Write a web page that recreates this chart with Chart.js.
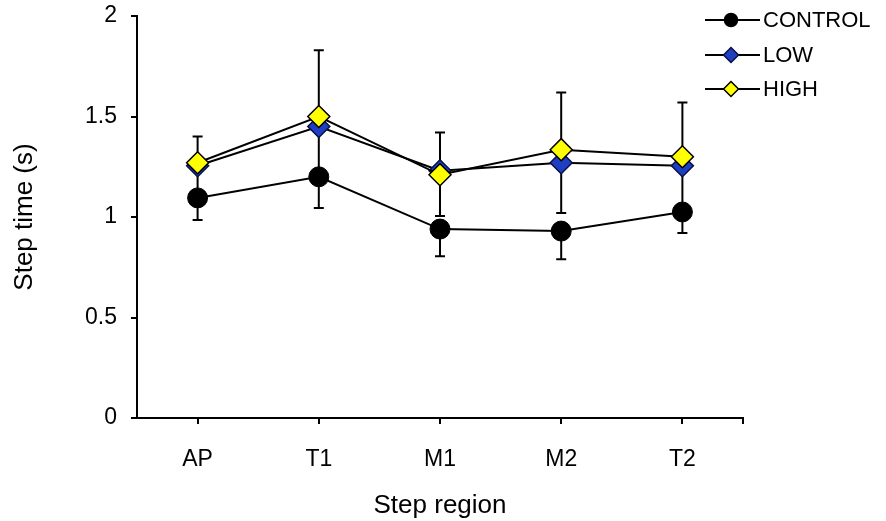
<!DOCTYPE html>
<html>
<head>
<meta charset="utf-8">
<script src="https://cdn.jsdelivr.net/npm/chart.js@4.4.1/dist/chart.umd.min.js"></script>
<style>
	html, body { margin: 0; padding: 0; background: #fff; }
	#wrap { width: 886px; height: 521px; position: relative; }
</style>
</head>
<body>
<div id="wrap"><canvas id="stepChart" width="886" height="521"></canvas></div>
<script>
const categories = ['AP', 'T1', 'M1', 'M2', 'T2'];
const controlValues = [1.095, 1.20, 0.94, 0.93, 1.025];
const controlErrMinus = [0.11, 0.155, 0.135, 0.14, 0.105];
const lowValues = [1.255, 1.45, 1.23, 1.27, 1.255];
const lowErrMinus = [0.13, 0.25, 0.225, 0.25, 0.2];
const highValues = [1.27, 1.50, 1.21, 1.335, 1.30];
const highErrPlus = [0.13, 0.33, 0.21, 0.285, 0.27];
const yTickLabels = ['0', '0.5', '1', '1.5', '2'];

const FONT = 'Arial, "Liberation Sans", sans-serif';

// one-sided error bars with caps, drawn under the markers
const errorBars = {
	id: 'errorBars',
	beforeDatasetsDraw(chart) {
		const ctx = chart.ctx;
		const xs = chart.scales.x, ys = chart.scales.y;
		ctx.save();
		ctx.strokeStyle = '#000';
		ctx.lineWidth = 2;
		chart.data.datasets.forEach(function(ds) {
			ds.data.forEach(function(v, i) {
				const up = ds.errPlus ? ds.errPlus[i] : 0;
				const down = ds.errMinus ? ds.errMinus[i] : 0;
				if(!up && !down) return;
				const x = xs.getPixelForValue(i);
				const yTop = ys.getPixelForValue(v + up);
				const yBot = ys.getPixelForValue(v - down);
				ctx.beginPath();
				ctx.moveTo(x, yTop); ctx.lineTo(x, yBot);
				if(up) { ctx.moveTo(x - 5, yTop); ctx.lineTo(x + 5, yTop); }
				if(down) { ctx.moveTo(x - 5, yBot); ctx.lineTo(x + 5, yBot); }
				ctx.stroke();
			});
		});
		ctx.restore();
	}
};

// legend in the top right corner: short line with the marker in the middle
const lineLegend = {
	id: 'lineLegend',
	afterDraw(chart) {
		const ctx = chart.ctx;
		const area = chart.chartArea;
		ctx.save();
		// tick at the far end of the x axis
		ctx.strokeStyle = '#000';
		ctx.lineWidth = 2;
		ctx.beginPath();
		ctx.moveTo(area.right, area.bottom);
		ctx.lineTo(area.right, area.bottom + 6);
		ctx.stroke();

		const x0 = 705, x1 = 760, mx = 731;
		const rows = [20, 55, 89];
		chart.data.datasets.forEach(function(ds, i) {
			const y = rows[i];
			ctx.strokeStyle = '#000';
			ctx.lineWidth = 2;
			ctx.beginPath();
			ctx.moveTo(x0, y); ctx.lineTo(x1, y);
			ctx.stroke();
			ctx.fillStyle = ds.pointBackgroundColor;
			ctx.strokeStyle = ds.pointBorderColor;
			ctx.lineWidth = 1.5;
			ctx.beginPath();
			if(ds.pointStyle === 'circle') {
				ctx.arc(mx, y, 6.5, 0, Math.PI * 2);
			} else {
				ctx.moveTo(mx, y - 7.5); ctx.lineTo(mx + 7.5, y);
				ctx.lineTo(mx, y + 7.5); ctx.lineTo(mx - 7.5, y);
				ctx.closePath();
			}
			ctx.fill();
			ctx.stroke();
			ctx.fillStyle = '#000';
			ctx.font = '22px ' + FONT;
			ctx.textBaseline = 'middle';
			ctx.textAlign = 'left';
			ctx.fillText(ds.label, 763, y + 1);
		});
		ctx.restore();
	}
};

const ctx = document.getElementById('stepChart').getContext('2d');
new Chart(ctx, {
	type: 'line',
	data: {
		labels: categories,
		datasets: [{
			label: 'CONTROL',
			data: controlValues,
			errMinus: controlErrMinus,
			borderColor: '#000',
			borderWidth: 2,
			pointStyle: 'circle',
			pointRadius: 10,
			pointBackgroundColor: '#000',
			pointBorderColor: '#000',
			pointBorderWidth: 1,
			order: 3
		}, {
			label: 'LOW',
			data: lowValues,
			errMinus: lowErrMinus,
			borderColor: '#000',
			borderWidth: 2,
			pointStyle: 'rectRot',
			pointRadius: 11,
			pointBackgroundColor: '#1e3fc4',
			pointBorderColor: '#0a1040',
			pointBorderWidth: 1.5,
			order: 2
		}, {
			label: 'HIGH',
			data: highValues,
			errPlus: highErrPlus,
			borderColor: '#000',
			borderWidth: 2,
			pointStyle: 'rectRot',
			pointRadius: 11,
			pointBackgroundColor: '#ffff00',
			pointBorderColor: '#000',
			pointBorderWidth: 1.5,
			order: 1
		}]
	},
	options: {
		responsive: false,
		animation: false,
		layout: { padding: { top: 16, right: 143, bottom: 0, left: 0 } },
		plugins: {
			legend: { display: false },
			tooltip: { enabled: false }
		},
		elements: { line: { tension: 0 } },
		scales: {
			x: {
				offset: true,
				grid: { display: true, drawOnChartArea: false, drawTicks: true, tickLength: 6, color: '#000', lineWidth: 2 },
				border: { display: true, color: '#000', width: 2 },
				ticks: { color: '#000', font: { family: FONT, size: 23 }, padding: 22, maxRotation: 0 },
				title: { display: true, text: 'Step region', color: '#000', font: { family: FONT, size: 26 }, padding: { top: 0, bottom: 0 } },
				afterFit: function(scale) { scale.height = 103; }
			},
			y: {
				min: 0,
				max: 2,
				grid: { display: true, drawOnChartArea: false, drawTicks: true, tickLength: 6, color: '#000', lineWidth: 2 },
				border: { display: true, color: '#000', width: 2 },
				ticks: {
					stepSize: 0.5,
					color: '#000',
					font: { family: FONT, size: 23 },
					padding: 14,
					callback: function(value) {
						return yTickLabels[Math.round(value * 2)];
					}
				},
				title: { display: true, text: 'Step time (s)', color: '#000', font: { family: FONT, size: 26 }, padding: { top: 9, bottom: 0 } },
				afterFit: function(scale) {
					scale.width = 137;
					scale.paddingTop = 0;
					scale.paddingBottom = 0;
				}
			}
		}
	},
	plugins: [errorBars, lineLegend]
});
</script>
</body>
</html>
